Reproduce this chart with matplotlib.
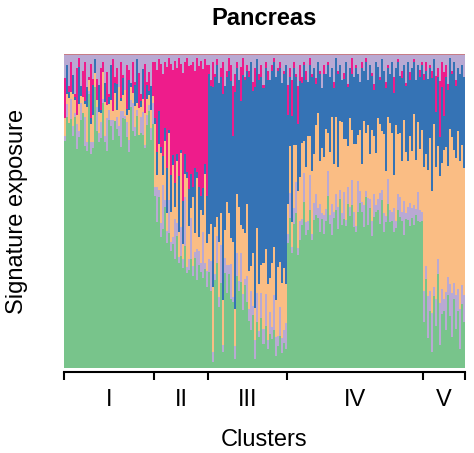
import numpy as np
import matplotlib
matplotlib.use('Agg')
import matplotlib.pyplot as plt

plt.rcParams['font.family'] = ['Liberation Sans', 'DejaVu Sans']

clusters = ['I', 'II', 'III', 'IV', 'V']
cluster_sizes = [45, 27, 39, 68, 21]

# signature exposures per sample (relative units), one line per cluster
sig_green = [
    79, 77, 80, 74, 72, 78, 70, 76, 73, 79, 68, 75, 77, 71, 74, 80, 69, 76, 72, 78, 73, 66, 77, 75, 70, 79, 74, 72, 67, 76, 78, 73, 71, 75, 69, 77, 74, 79, 72, 70, 76, 73, 78, 75, 71,
    55, 50, 52, 47, 44, 49, 42, 45, 38, 41, 36, 40, 34, 39, 33, 37, 30, 35, 32, 28, 34, 31, 29, 33, 27, 30, 26,
    30, 25, 2, 28, 32, 20, 27, 5, 31, 24, 29, 22, 26, 3, 28, 25, 30, 18, 27, 21, 15, 12, 18, 3, 14, 10, 16, 8, 13, 6, 11, 9, 12, 4, 7, 10, 5, 8, 6,
    42, 48, 38, 45, 50, 44, 40, 47, 52, 43, 46, 49, 41, 45, 53, 47, 44, 50, 42, 48, 55, 46, 43, 51, 49, 45, 54, 47, 50, 44, 56, 48, 52, 46, 43, 51, 55, 49, 45, 53, 47, 50, 44, 52, 48, 55, 46, 51, 43, 49, 53, 47, 45, 50, 44, 48, 52, 46, 43, 49, 45, 51, 47, 44, 50, 46, 48, 45,
    15, 28, 10, 18, 5, 22, 14, 30, 8, 17, 20, 12, 25, 16, 10, 22, 13, 18, 6, 20, 15,
]
sig_lav_low = [
    2, 4, 0, 6, 3, 1, 8, 2, 5, 0, 9, 3, 1, 4, 2, 0, 7, 3, 5, 1, 2, 10, 3, 2, 6, 0, 4, 3, 11, 2, 1, 5, 4, 2, 8, 3, 2, 0, 5, 7, 1, 3, 2, 4, 6,
    3, 12, 2, 5, 14, 2, 4, 11, 3, 2, 13, 4, 2, 10, 3, 15, 2, 4, 12, 3, 2, 11, 4, 3, 14, 2, 5,
    4, 10, 3, 2, 8, 3, 12, 2, 5, 9, 3, 11, 2, 4, 7, 3, 10, 5, 2, 8, 4, 12, 3, 6, 9, 2, 8, 5, 10, 3, 7, 4, 11, 6, 3, 9, 5, 4, 8,
    3, 8, 2, 5, 10, 3, 6, 2, 9, 4, 3, 11, 2, 5, 7, 3, 9, 2, 6, 4, 8, 3, 10, 2, 5, 7, 3, 4, 9, 2, 6, 3, 8, 5, 2, 10, 4, 3, 7, 2, 9, 3, 5, 8, 2, 4, 10, 3, 6, 2, 8, 4, 3, 9, 2, 5, 7, 3, 11, 2, 4, 8, 3, 6, 2, 9, 4, 3,
    10, 4, 14, 6, 12, 3, 9, 5, 15, 8, 4, 12, 6, 10, 14, 5, 11, 7, 13, 6, 9,
]
sig_orange = [
    6, 3, 8, 2, 10, 4, 3, 9, 2, 5, 4, 12, 3, 6, 9, 4, 2, 7, 3, 8, 11, 4, 2, 6, 3, 9, 2, 12, 3, 5, 8, 2, 10, 4, 3, 7, 2, 9, 3, 4, 11, 5, 3, 6, 2,
    20, 4, 14, 25, 3, 18, 6, 22, 10, 24, 4, 19, 8, 26, 5, 7, 28, 12, 3, 21, 6, 25, 4, 18, 5, 27, 9,
    8, 12, 20, 15, 6, 18, 10, 14, 9, 20, 16, 8, 22, 12, 18, 24, 10, 20, 15, 23, 12, 8, 18, 10, 20, 15, 9, 22, 14, 18, 11, 20, 15, 12, 22, 14, 18, 20, 12,
    10, 15, 8, 20, 12, 22, 14, 25, 10, 18, 28, 12, 20, 15, 24, 30, 14, 22, 18, 26, 12, 20, 28, 16, 24, 13, 22, 30, 18, 25, 14, 28, 16, 22, 26, 15, 20, 12, 27, 18, 24, 14, 30, 20, 16, 28, 22, 18, 25, 15, 20, 28, 24, 12, 30, 18, 22, 16, 26, 20, 14, 24, 18, 28, 16, 22, 20, 25,
    40, 35, 42, 48, 38, 50, 44, 36, 45, 40, 52, 46, 38, 48, 50, 42, 45, 50, 48, 44, 42,
]
sig_blue = [
    0, 9, 2, 0, 6, 1, 0, 12, 3, 0, 1, 7, 0, 2, 10, 4, 0, 9, 1, 0, 6, 0, 2, 11, 0, 3, 8, 0, 1, 5, 0, 2, 10, 1, 0, 7, 13, 0, 2, 9, 0, 4, 1, 8, 0,
    2, 8, 10, 2, 6, 4, 15, 1, 12, 3, 8, 2, 18, 1, 14, 6, 2, 13, 10, 3, 20, 2, 14, 5, 8, 3, 15,
    50, 45, 62, 48, 46, 52, 43, 64, 47, 40, 44, 50, 42, 70, 38, 41, 43, 48, 50, 42, 62, 64, 55, 70, 52, 66, 60, 58, 56, 66, 64, 60, 58, 72, 62, 60, 66, 62, 68,
    30, 22, 35, 24, 22, 26, 30, 20, 24, 28, 18, 22, 30, 26, 14, 16, 28, 20, 26, 18, 22, 24, 16, 26, 18, 30, 18, 14, 20, 24, 20, 16, 18, 22, 24, 20, 16, 30, 16, 22, 15, 28, 18, 16, 28, 18, 14, 22, 20, 28, 16, 16, 22, 30, 18, 22, 20, 26, 18, 22, 30, 20, 26, 16, 26, 18, 24, 20,
    28, 26, 30, 22, 35, 20, 18, 22, 14, 24, 12, 22, 26, 22, 20, 28, 24, 20, 28, 25, 30,
]
sig_pink = [
    14, 0, 2, 9, 0, 1, 15, 3, 0, 8, 12, 0, 1, 18, 2, 0, 6, 0, 13, 3, 0, 10, 1, 0, 16, 2, 5, 0, 11, 1, 0, 14, 3, 0, 9, 1, 0, 12, 2, 0, 17, 1, 6, 0, 10,
    18, 28, 16, 30, 26, 20, 34, 24, 36, 28, 40, 26, 38, 30, 42, 28, 36, 44, 32, 38, 30, 40, 34, 46, 36, 32, 42,
    3, 2, 8, 1, 2, 0, 3, 10, 0, 2, 4, 5, 20, 6, 2, 0, 12, 5, 1, 2, 2, 0, 3, 6, 0, 2, 4, 1, 2, 3, 0, 2, 1, 0, 1, 2, 0, 1, 0,
    10, 3, 12, 2, 1, 15, 5, 2, 1, 3, 0, 2, 1, 0, 2, 0, 1, 0, 3, 0, 1, 0, 0, 2, 0, 1, 0, 0, 2, 0, 1, 0, 5, 0, 1, 0, 0, 2, 0, 1, 0, 0, 1, 2, 0, 0, 1, 0, 0, 2, 1, 0, 0, 6, 0, 1, 0, 2, 0, 1, 0, 3, 0, 1, 0, 0, 2, 1,
    2, 3, 0, 1, 2, 0, 12, 3, 20, 8, 15, 4, 2, 0, 1, 0, 2, 0, 0, 0, 0,
]
sig_lav_top = [
    8, 3, 10, 2, 6, 12, 4, 1, 9, 5, 2, 11, 6, 3, 8, 1, 7, 10, 4, 2, 9, 5, 12, 3, 1, 7, 4, 10, 2, 6, 11, 3, 5, 8, 2, 9, 1, 6, 12, 4, 3, 8, 5, 10, 2,
    2, 5, 1, 3, 6, 2, 4, 1, 3, 5, 2, 4, 1, 3, 6, 2, 1, 4, 3, 2, 5, 1, 3, 2, 4, 1, 3,
    3, 8, 2, 6, 1, 9, 4, 2, 10, 5, 1, 3, 12, 6, 2, 8, 4, 1, 7, 3, 5, 2, 9, 4, 1, 6, 3, 10, 2, 5, 8, 3, 1, 7, 4, 2, 9, 5, 3,
    10, 4, 8, 2, 6, 12, 3, 7, 2, 5, 9, 1, 6, 4, 8, 2, 5, 11, 3, 6, 2, 7, 4, 9, 1, 5, 3, 8, 6, 2, 10, 4, 1, 7, 3, 6, 9, 2, 5, 1, 8, 3, 6, 10, 2, 4, 7, 1, 5, 9, 3, 6, 2, 8, 4, 1, 7, 5, 3, 9, 2, 6, 4, 1, 8, 3, 5, 2,
    6, 2, 8, 3, 5, 1, 7, 4, 9, 2, 6, 3, 10, 1, 5, 2, 8, 4, 6, 3, 7,
]
other_share = 0.004  # small residual signature on top of every sample

colors = ['#78C48B', '#B9A9D3', '#FABD84', '#3573B5', '#EE1C8B', '#B9A9D3']

expo = np.array([sig_green, sig_lav_low, sig_orange, sig_blue, sig_pink, sig_lav_top], dtype=float)
expo = expo / expo.sum(axis=0) * (1 - other_share)
n = expo.shape[1]
x = np.arange(n)

fig = plt.figure(figsize=(4.74, 4.53), dpi=100)
ax = fig.add_axes([64 / 474, 85 / 453, 401 / 474, 314 / 453])

bottom = np.zeros(n)
for row, c in zip(expo, colors):
    ax.bar(x, row, bottom=bottom, width=1.0, color=c, linewidth=0, antialiased=False)
    bottom += row
ax.bar(x, other_share, bottom=bottom, width=1.0, color='#C77C86', linewidth=0, antialiased=False)

ax.set_xlim(-0.5, n - 0.5)
ax.set_ylim(0, 1)

for s in ['top', 'right', 'left']:
    ax.spines[s].set_visible(False)
ax.spines['bottom'].set_position(('outward', 3))
ax.spines['bottom'].set_linewidth(1.5)

# cluster boundaries as ticks, names in between
sizes = np.array(cluster_sizes)
bounds = np.concatenate([[0], np.cumsum(sizes)]) - 0.5
ax.set_xticks(bounds)
ax.set_xticklabels([])
ax.tick_params(axis='x', which='major', length=6, width=1.5)
ax.set_xticks(bounds[:-1] + sizes / 2, minor=True)
ax.set_xticklabels(clusters, minor=True)
ax.tick_params(axis='x', which='minor', length=0, pad=12, labelsize=17)
ax.set_yticks([])

ax.set_xlabel('Clusters', fontsize=17, labelpad=13)
ax.set_ylabel('Signature exposure', fontsize=17, labelpad=26)
ax.set_title('Pancreas', fontsize=17, fontweight='bold', pad=21)

fig.savefig('out.png', dpi=100)
